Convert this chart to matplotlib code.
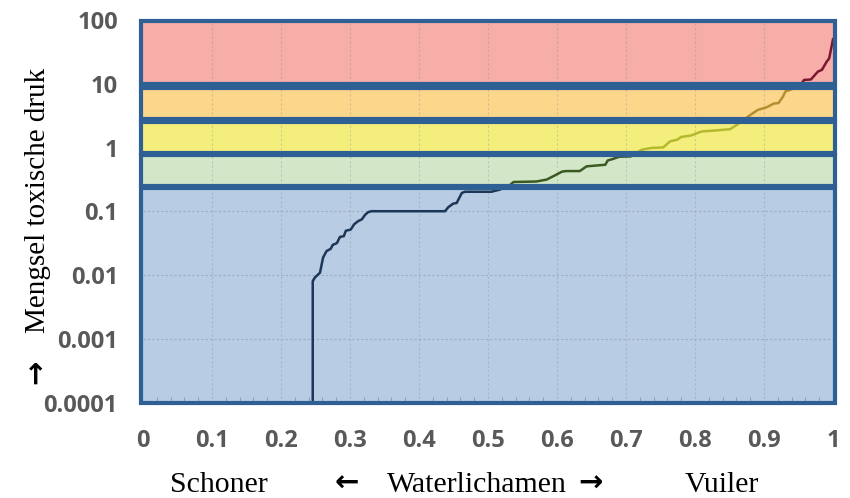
import matplotlib
matplotlib.use("Agg")
import matplotlib.pyplot as plt
from matplotlib.patches import Rectangle
from matplotlib.ticker import MultipleLocator, FixedLocator

# ---- data ----
x_vals = [0.246, 0.246, 0.249, 0.2565, 0.261, 0.266, 0.272, 0.275, 0.281, 0.2855,
          0.291, 0.294, 0.301, 0.306, 0.312, 0.317, 0.322, 0.3265, 0.331, 0.4377,
          0.4425, 0.4497, 0.4546, 0.462, 0.4667, 0.505, 0.517, 0.532, 0.537, 0.570,
          0.585, 0.5995, 0.607, 0.613, 0.633, 0.643, 0.670, 0.6735, 0.680, 0.690,
          0.707, 0.723, 0.737, 0.754, 0.764, 0.774, 0.780, 0.794, 0.810, 0.830,
          0.851, 0.861, 0.867, 0.881, 0.891, 0.904, 0.914, 0.921, 0.9275, 0.931,
          0.941, 0.951, 0.958, 0.968, 0.978, 0.984, 0.991, 0.9945, 1.0]
y_vals = [0.0001, 0.0081, 0.0092, 0.011, 0.019, 0.024, 0.026, 0.030, 0.032, 0.040,
          0.041, 0.050, 0.052, 0.063, 0.071, 0.075, 0.089, 0.098, 0.101, 0.101,
          0.117, 0.133, 0.136, 0.195, 0.204, 0.204, 0.22, 0.26, 0.29, 0.295,
          0.316, 0.38, 0.42, 0.43, 0.43, 0.51, 0.54, 0.63, 0.66, 0.72,
          0.73, 0.93, 0.99, 1.01, 1.26, 1.33, 1.47, 1.55, 1.80, 1.86,
          1.95, 2.29, 2.57, 3.3, 3.9, 4.3, 4.9, 5.0, 6.3, 7.6,
          8.3, 8.9, 11.5, 11.7, 15.5, 16.6, 22.4, 25.1, 50.0]

band_lows = [0.0001, 0.255, 0.835, 2.8, 10.0]
band_highs = [0.237, 0.776, 2.55, 8.7, 96.0]
band_colors = ["#B8CCE4", "#D3E6C8", "#F4EF7C", "#FCD68B", "#F7ADA8"]
line_colors = ["#1B3656", "#3B5A22", "#B4BA2E", "#B78E2E", "#7B1630"]

x_ticks = [0, 0.1, 0.2, 0.3, 0.4, 0.5, 0.6, 0.7, 0.8, 0.9, 1]
x_tick_labels = ["0", "0.1", "0.2", "0.3", "0.4", "0.5", "0.6", "0.7", "0.8", "0.9", "1"]
y_ticks = [0.0001, 0.001, 0.01, 0.1, 1, 10, 100]
y_tick_labels = ["0.0001", "0.001", "0.01", "0.1", "1", "10", "100"]

# ---- figure ----
fig = plt.figure(figsize=(8.5, 4.98), dpi=100)
ax = fig.add_axes([143/850, 1-403/498, 690/850, 383/498])
ax.set_xlim(0, 1)
ax.set_yscale("log")
ax.set_ylim(0.0001, 100)

border = "#2E6095"
for lo, hi, c in zip(band_lows, band_highs, band_colors):
    r = Rectangle((-0.003, lo), 1.006, hi - lo, facecolor=c, edgecolor="none",
                  zorder=1, clip_on=False)
    ax.add_patch(r)

# grid on top of fills (faint)
for xv in x_ticks[1:-1]:
    ax.axvline(xv, color="#7F8FA0", lw=0.8, ls=(0, (2, 2)), alpha=0.35, zorder=2)
for yv in [0.001, 0.01, 0.1]:
    ax.axhline(yv, color="#7F8FA0", lw=0.8, ls=(0, (2, 2)), alpha=0.5, zorder=2)

# curve coloured per band
for lo, hi, lc in zip(band_lows, band_highs, line_colors):
    ln, = ax.plot(x_vals, y_vals, color=lc, lw=1.8, zorder=3, solid_joinstyle="round")
    clip = Rectangle((-0.01, lo), 1.02, hi - lo, transform=ax.transData)
    ln.set_clip_path(clip)

# borders on top
for lo, hi in zip(band_lows, band_highs):
    r = Rectangle((-0.003, lo), 1.006, hi - lo, facecolor="none", edgecolor=border,
                  linewidth=3.0, zorder=4, clip_on=False)
    ax.add_patch(r)

for s in ax.spines.values():
    s.set_visible(False)

ax.xaxis.set_major_locator(FixedLocator(x_ticks))
ax.set_xticklabels(x_tick_labels)
ax.xaxis.set_minor_locator(MultipleLocator(0.02))
ax.yaxis.set_major_locator(FixedLocator(y_ticks))
ax.set_yticklabels(y_tick_labels)
ax.yaxis.set_minor_locator(FixedLocator([]))
ax.tick_params(axis="x", which="major", length=0, pad=19)
ax.tick_params(axis="x", which="minor", direction="in", length=4, color="#8FA0B5", width=0.8)
ax.tick_params(axis="y", which="major", length=0, pad=18)
for lab in ax.get_xticklabels() + ax.get_yticklabels():
    lab.set_fontfamily("Open Sans")
    lab.set_fontweight("bold")
    lab.set_fontsize(17)
    lab.set_color("#595959")

serif = ["Liberation Serif", "DejaVu Serif"]
arrowfam = ["DejaVu Sans"]
fig.text(38/850, 1-200/498, "Mengsel toxische druk", rotation=90,
         ha="center", va="center", fontsize=21, family=serif, color="black")
fig.text(37/850, 1-372/498, "\u2192", rotation=90, ha="center", va="center",
         fontsize=21, family=arrowfam, fontweight="bold", color="black")
fig.text(219/850, 1-485/498, "Schoner", ha="center", va="center", fontsize=21.5,
         family=serif, color="black")
fig.text(347/850, 1-484/498, "\u2190", ha="center", va="center", fontsize=21,
         family=arrowfam, fontweight="bold", color="black")
fig.text(477/850, 1-485/498, "Waterlichamen", ha="center", va="center",
         fontsize=21.5, family=serif, color="black")
fig.text(590/850, 1-484/498, "\u2192", ha="center", va="center", fontsize=21,
         family=arrowfam, fontweight="bold", color="black")
fig.text(722/850, 1-485/498, "Vuiler", ha="center", va="center", fontsize=21.5,
         family=serif, color="black")

fig.savefig("out.png", dpi=100)
